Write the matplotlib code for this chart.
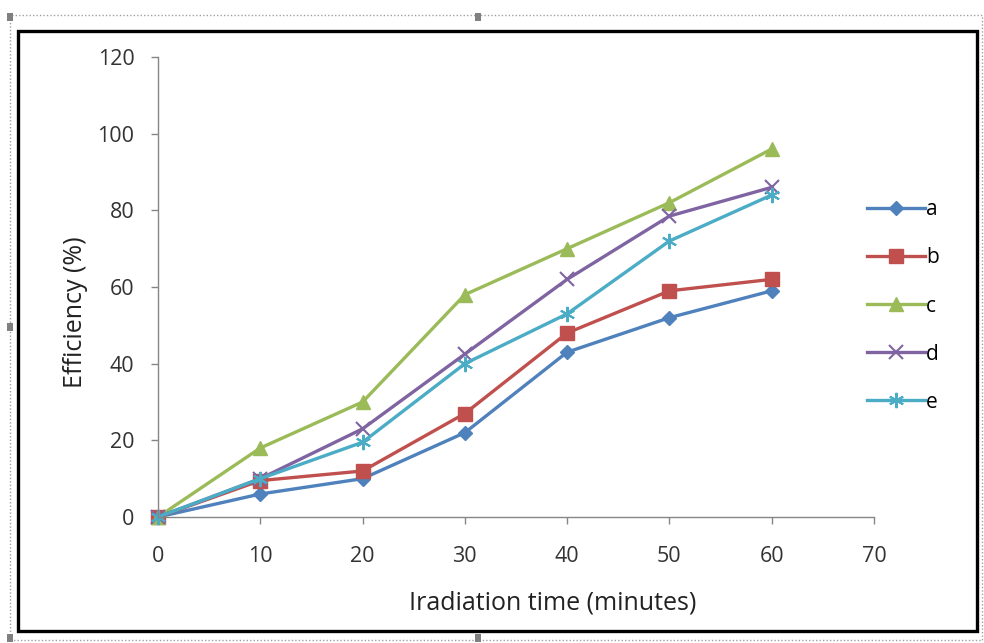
import matplotlib
matplotlib.use("Agg")
import matplotlib.pyplot as plt
from matplotlib.patches import Rectangle

x = [0, 10, 20, 30, 40, 50, 60]
series_names = ["a", "b", "c", "d", "e"]
a = [0, 6, 10, 22, 43, 52, 59]
b = [0, 9.5, 12, 27, 48, 59, 62]
c = [0, 18, 30, 58, 70, 82, 96]
d = [0, 10, 23, 42.5, 62, 78.5, 86]
e = [0, 10, 19.5, 40, 53, 72, 84]
xticks = [0, 10, 20, 30, 40, 50, 60, 70]
yticks = [0, 20, 40, 60, 80, 100, 120]

colors = ["#4F81BD", "#C0504D", "#9BBB59", "#8064A2", "#4BACC6"]
markers = ["D", "s", "^", "x", (6, 2, 0)]
msizes = [7, 10, 10, 10, 11]

plt.rcParams['font.family'] = ['Open Sans', 'DejaVu Sans']

fig = plt.figure(figsize=(9.84, 6.43), dpi=100)
fig.patch.set_facecolor("white")

# outer dotted frame and inner thick frame
fig.patches.append(Rectangle((10/984, 1-640/643), 972/984, 625/643, transform=fig.transFigure,
                             fill=False, edgecolor="#A0A0A0", linestyle=(0, (1, 1.5)), linewidth=1))
fig.patches.append(Rectangle((18/984, 1-631/643), 959/984, 600/643, transform=fig.transFigure,
                             fill=False, edgecolor="black", linewidth=2.4))
for (hx, hy) in [(10, 17), (478, 17), (10, 327), (10, 638), (478, 638)]:
    fig.patches.append(Rectangle(((hx-3)/984, 1-(hy+4)/643), 6/984, 8/643, transform=fig.transFigure,
                                 facecolor="#808080", edgecolor="none"))

ax = fig.add_axes([158/984, 1-517/643, (874-158)/984, (517-57)/643])
for vals, name, col, mk, ms in zip([a, b, c, d, e], series_names, colors, markers, msizes):
    ax.plot(x, vals, color=col, linewidth=2.4, marker=mk, markersize=ms,
            markeredgecolor=col, markerfacecolor=col,
            markeredgewidth=1.5 if (mk == "x" or isinstance(mk, tuple)) else 1,
            label=name, clip_on=False)

ax.set_xlim(0, 70)
ax.set_ylim(0, 120)
ax.set_xticks(xticks)
ax.set_yticks(yticks)
for s in ["top", "right"]:
    ax.spines[s].set_visible(False)
for s in ["left", "bottom"]:
    ax.spines[s].set_color("#868686")
    ax.spines[s].set_linewidth(1)
ax.tick_params(axis="both", colors="#868686", labelcolor="#333333", labelsize=15.5, length=5, width=1)
ax.tick_params(axis="y", pad=12)
ax.tick_params(axis="x", pad=16)

ax.set_xlabel("Iradiation time (minutes)", fontsize=18, color="#222222")
ax.set_ylabel("Efficiency (%)", fontsize=18, color="#222222")
ax.xaxis.set_label_coords((553-158)/716, (517-603)/460, transform=ax.transAxes)
ax.yaxis.set_label_coords((75-158)/716, (517-312)/460, transform=ax.transAxes)
ax.xaxis.label.set_va("center")
ax.yaxis.label.set_va("center")

leg = fig.legend(loc="center left", bbox_to_anchor=(857/984, 1-306/643), frameon=False,
                 fontsize=15, handlelength=2.75, labelspacing=1.3, handletextpad=0.05,
                 borderpad=0)

fig.savefig("out.png", dpi=100)
